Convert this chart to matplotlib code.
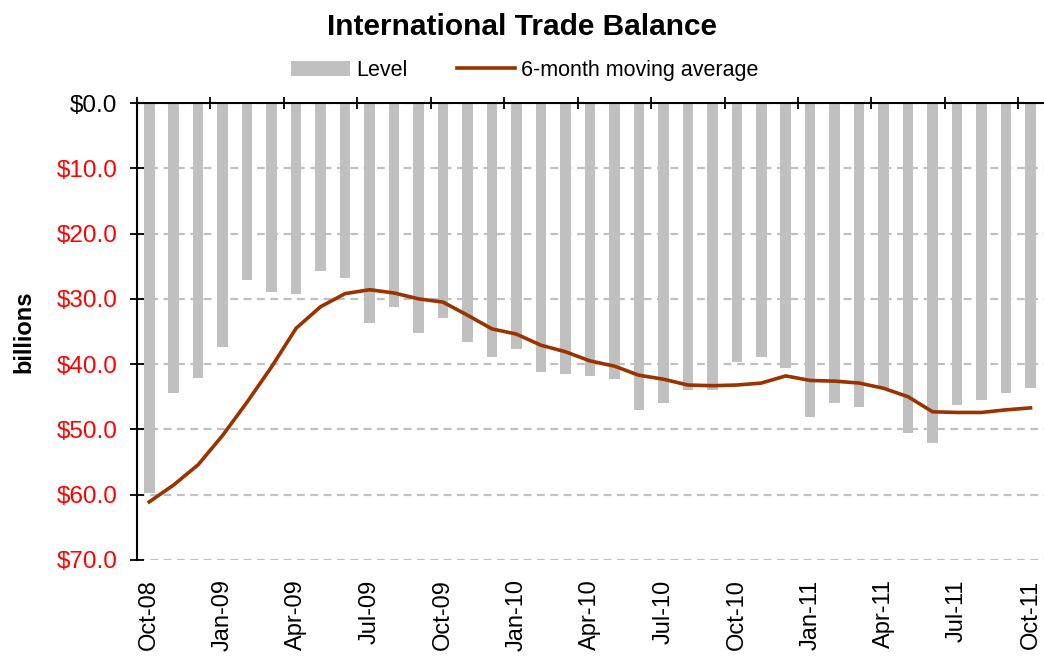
import matplotlib
matplotlib.use("Agg")
import matplotlib.pyplot as plt
import numpy as np

months = ["Oct-08", "Nov-08", "Dec-08", "Jan-09", "Feb-09", "Mar-09", "Apr-09", "May-09", "Jun-09",
          "Jul-09", "Aug-09", "Sep-09", "Oct-09", "Nov-09", "Dec-09", "Jan-10", "Feb-10", "Mar-10",
          "Apr-10", "May-10", "Jun-10", "Jul-10", "Aug-10", "Sep-10", "Oct-10", "Nov-10", "Dec-10",
          "Jan-11", "Feb-11", "Mar-11", "Apr-11", "May-11", "Jun-11", "Jul-11", "Aug-11", "Sep-11",
          "Oct-11"]

level = [59.7, 44.4, 42.1, 37.4, 27.1, 28.9, 29.3, 25.7, 26.8,
         33.7, 31.2, 35.2, 32.9, 36.6, 38.9, 37.7, 41.2, 41.5,
         41.8, 42.2, 47.0, 45.9, 43.9, 43.9, 39.7, 38.9, 40.6,
         48.1, 45.9, 46.6, 43.7, 50.6, 52.1, 46.3, 45.5, 44.4,
         43.7]

moving_avg = [61.1, 58.5, 55.4, 50.9, 45.8, 40.4, 34.5, 31.2, 29.2,
              28.6, 29.1, 30.0, 30.5, 32.5, 34.6, 35.4, 37.1, 38.1,
              39.5, 40.3, 41.7, 42.3, 43.2, 43.3, 43.2, 42.9, 41.8,
              42.5, 42.6, 42.9, 43.7, 45.0, 47.3, 47.4, 47.4, 47.0,
              46.7]

yticks = [0, 10, 20, 30, 40, 50, 60, 70]
ytick_labels = ["$0.0", "$10.0", "$20.0", "$30.0", "$40.0", "$50.0", "$60.0", "$70.0"]

plt.rcParams['font.family'] = ['Liberation Sans', 'DejaVu Sans']

fig = plt.figure(figsize=(10.44, 6.58), dpi=100)
ax = fig.add_axes([137 / 1044, 1 - 560 / 658, 1 - 137 / 1044, (560 - 103) / 658])

x = np.arange(len(months))
bars = ax.bar(x, level, width=0.43, color="#C0C0C0", zorder=2, label="Level")
line, = ax.plot(x, moving_avg, color="#993300", linewidth=2.6, zorder=3, label="6-month moving average")

ax.set_xlim(-0.5, len(months) - 0.45)
ax.set_ylim(70, 0)

ax.set_yticks(yticks)
ax.set_yticklabels(ytick_labels, fontsize=17.5)
for i, lab in enumerate(ax.get_yticklabels()):
    lab.set_color("#000000" if yticks[i] == 0 else "#FF0000")

# tick marks between categories at the top axis, labels under category centres at the bottom
tick_idx = x[::3]
ax.set_xticks(tick_idx - 0.5)
ax.set_xticklabels([])
ax.set_xticks(tick_idx, minor=True)
ax.set_xticklabels([months[i] for i in tick_idx], minor=True, rotation=90, fontsize=17)
ax.tick_params(axis="x", which="major", top=True, bottom=False, direction="inout", length=8,
               width=1.3, labelbottom=False)
ax.tick_params(axis="x", which="minor", top=False, bottom=False, labelbottom=True, pad=12)
ax.tick_params(axis="y", direction="inout", length=10, width=1.3, pad=9)

ax.yaxis.grid(True, linestyle=(0, (3.5, 2.5)), color="#C0C0C0", linewidth=1.6, zorder=0)
ax.set_axisbelow(True)

for s in ["right", "bottom"]:
    ax.spines[s].set_visible(False)
ax.spines["top"].set_linewidth(1.5)
ax.spines["left"].set_linewidth(1.5)

ax.set_ylabel("billions", fontsize=17, fontweight="bold")
ax.yaxis.set_label_coords(-0.112, 0.5)

fig.suptitle("International Trade Balance", fontsize=21.5, fontweight="bold", x=0.5, y=0.98)
fig.legend(handles=[bars, line], labels=["Level", "6-month moving average"],
           loc="center", bbox_to_anchor=(0.503, 0.893), ncol=2, frameon=False, fontsize=15.5,
           handlelength=2.7, handletextpad=0.3, columnspacing=2.3, handleheight=0.7)

fig.savefig("out.png", dpi=100)
